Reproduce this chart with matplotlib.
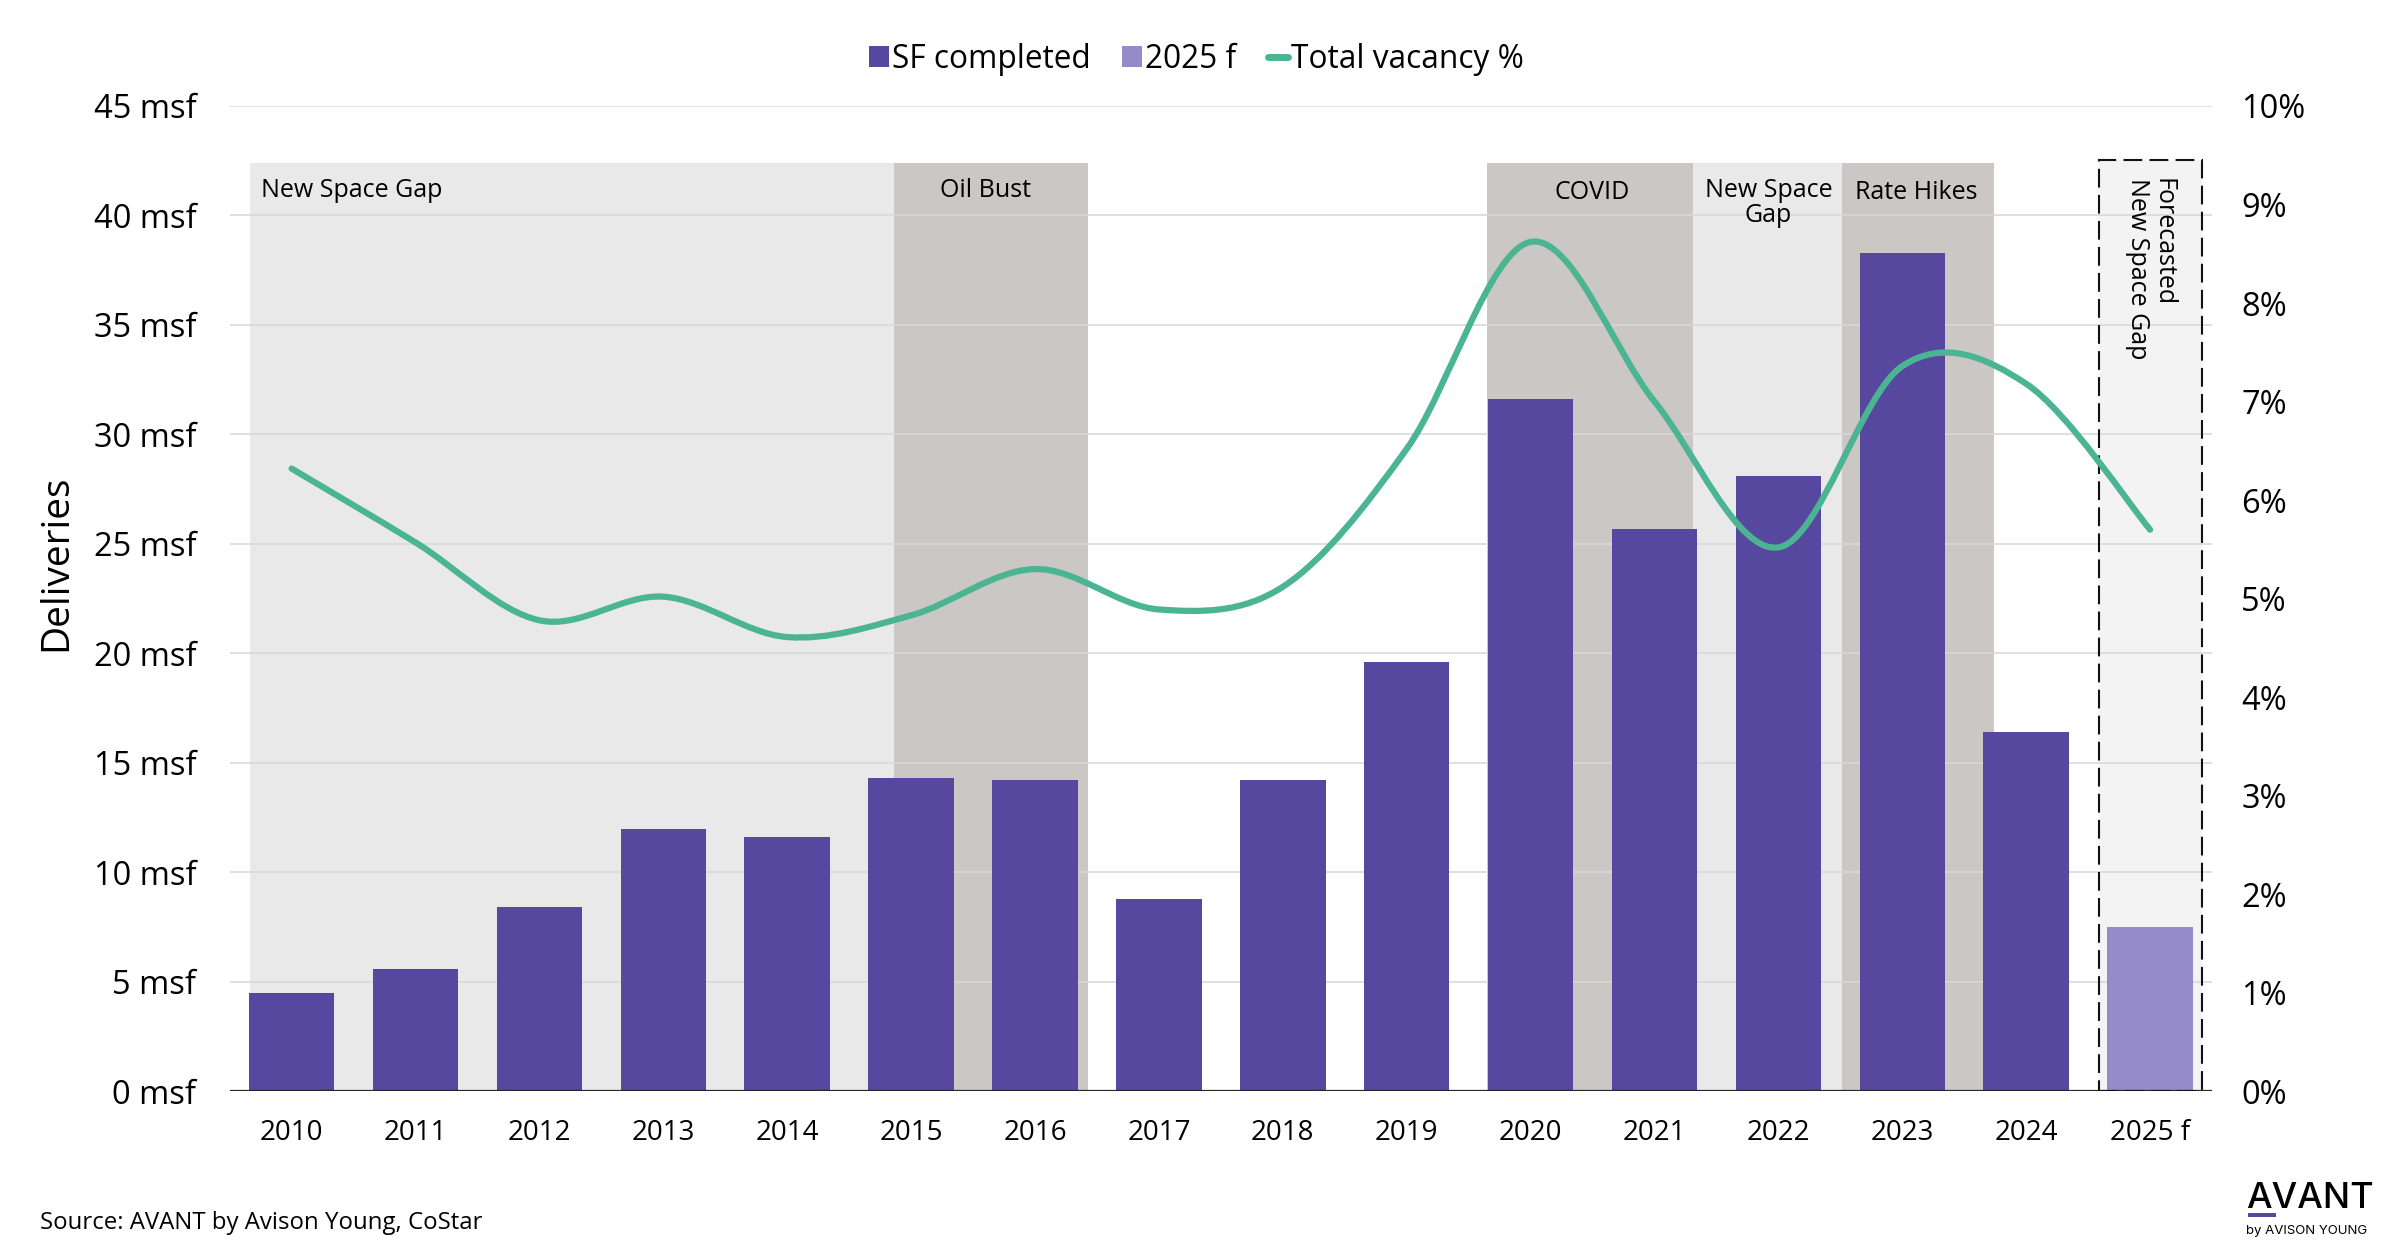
import matplotlib
matplotlib.use("Agg")
import matplotlib.pyplot as plt
from matplotlib.patches import Rectangle, Patch, PathPatch
from matplotlib.lines import Line2D
from matplotlib.path import Path
import numpy as np

# ---------------- data ----------------
years = ["2010", "2011", "2012", "2013", "2014", "2015", "2016", "2017",
         "2018", "2019", "2020", "2021", "2022", "2023", "2024", "2025 f"]
sf_completed = [4.5, 5.6, 8.4, 12.0, 11.6, 14.3, 14.2, 8.8,
                14.2, 19.6, 31.6, 25.7, 28.1, 38.3, 16.4, 7.5]
vacancy = [6.32, 5.57, 4.78, 5.02, 4.61, 4.83, 5.30, 4.89,
           5.12, 6.52, 8.62, 7.00, 5.52, 7.36, 7.18, 5.70]
forecast_index = 15

y_ticks = [0, 5, 10, 15, 20, 25, 30, 35, 40, 45]
y_tick_labels = [f"{v} msf" for v in y_ticks]
y2_ticks = list(range(0, 11))
y2_tick_labels = [f"{v}%" for v in y2_ticks]

periods = ["New Space Gap", "Oil Bust", "COVID", "New Space\nGap", "Rate Hikes"]

# ---------------- style ----------------
FONT = "Open Sans"
plt.rcParams["font.family"] = [FONT, "DejaVu Sans"]
BAR = "#56489e"
BAR_F = "#958bc9"
LINE = "#4bb593"
LIGHT = "#e9e9e9"
DARK = "#cbc7c4"
GRID = "#d9d9d9"

fig = plt.figure(figsize=(24, 12.6), dpi=100)
ax = fig.add_axes([0.0957, 0.1339, 0.826, 0.782])
ax2 = ax.twinx()

x = np.arange(len(years))
ax.set_xlim(-0.5, len(years) - 0.5)
ax.set_ylim(0, 45)
ax2.set_ylim(0, 10)

# shaded periods (category-unit spans)
spans = [(-0.334, 4.86, LIGHT), (4.86, 6.43, DARK), (9.645, 11.31, DARK),
         (11.31, 12.51, LIGHT), (12.51, 13.74, DARK)]
top = 42.4
for (a, b, c) in spans:
    ax.add_patch(Rectangle((a, 0), b - a, top, facecolor=c, edgecolor="none", zorder=0.5))

# forecast dashed box
ax.add_patch(Rectangle((14.59, 0), 0.83, 42.55, facecolor="#f3f3f3", edgecolor="none", zorder=0.5))
ax.add_patch(Rectangle((14.59, 0), 0.83, 42.55, facecolor="none", edgecolor="#111111",
                       lw=1.5, linestyle=(0, (9, 3.5)), zorder=4))

# gridlines
for v in y_ticks[1:]:
    ax.axhline(v, color=GRID, lw=1.2, zorder=1)

# bars
colors = [BAR] * len(years)
colors[forecast_index] = BAR_F
ax.bar(x, sf_completed, width=0.69, color=colors, zorder=2)
ax.axhline(0, color="#262626", lw=1.6, zorder=3)

# period labels
lab_fs = 18
ax.text(-0.247, 41.15, periods[0], ha="left", va="center", fontsize=lab_fs, zorder=5)
ax.text(5.60, 41.15, periods[1], ha="center", va="center", fontsize=lab_fs, zorder=5)
ax.text(10.50, 41.05, periods[2], ha="center", va="center", fontsize=lab_fs, zorder=5)
ax.text(11.92, 40.55, periods[3], ha="center", va="center", fontsize=lab_fs,
        linespacing=1.0, zorder=5)
ax.text(13.11, 41.05, periods[4], ha="center", va="center", fontsize=lab_fs, zorder=5)
ax.text(15.0, 41.7, "Forecasted\nNew Space Gap", ha="center", va="top", rotation=-90,
        fontsize=lab_fs, linespacing=1.0, multialignment="left", zorder=5)

# smoothed vacancy line (Catmull-Rom as cubic Bezier)
P = np.column_stack([x, vacancy]).astype(float)
n = len(P)
verts = [tuple(P[0])]
codes = [Path.MOVETO]
for i in range(n - 1):
    p0 = P[i - 1] if i > 0 else P[i]
    p1 = P[i]
    p2 = P[i + 1]
    p3 = P[i + 2] if i + 2 < n else P[i + 1]
    c1 = p1 + (p2 - p0) / 6.0
    c2 = p2 - (p3 - p1) / 6.0
    verts += [tuple(c1), tuple(c2), tuple(p2)]
    codes += [Path.CURVE4] * 3
ax2.add_patch(PathPatch(Path(verts, codes), facecolor="none", edgecolor=LINE, lw=4.5,
                        capstyle="round", joinstyle="round", zorder=3))

# axes styling
for a in (ax, ax2):
    for s in a.spines.values():
        s.set_visible(False)
ax.set_xticks(x)
ax.set_xticklabels(years, fontsize=20)
ax.tick_params(axis="x", length=0, pad=20)
ax.set_yticks(y_ticks)
ax.set_yticklabels(y_tick_labels, fontsize=23.5)
ax.tick_params(axis="y", length=0, pad=24)
ax2.set_yticks(y2_ticks)
ax2.set_yticklabels(y2_tick_labels, fontsize=23.5)
ax2.tick_params(axis="y", length=0, pad=21)
ax.set_ylabel("Deliveries", fontsize=28)
ax.yaxis.set_label_coords(-0.078, 0.536)

# legend
handles = [Patch(facecolor=BAR, edgecolor="none"),
           Patch(facecolor=BAR_F, edgecolor="none"),
           Line2D([0], [0], color=LINE, lw=5, solid_capstyle="round")]
fig.legend(handles, ["SF completed", "2025 f", "Total vacancy %"], loc="center",
           bbox_to_anchor=(0.4985, 0.953), ncol=3, frameon=False, fontsize=22.8,
           handlelength=0.62, handleheight=0.62, handletextpad=0.1, columnspacing=1.0)

# source and logo
fig.text(0.0167, 0.0246, "Source: AVANT by Avison Young, CoStar", fontsize=17.3,
         ha="left", va="baseline")
fig.text(0.936, 0.041, "AVANT", fontsize=26, family=["Inter", "DejaVu Sans"],
         weight="medium", ha="left", va="baseline")
fig.add_artist(Rectangle((0.9365, 0.0345), 0.012, 0.0028, facecolor=BAR, edgecolor="none",
                         transform=fig.transFigure))
fig.text(0.936, 0.021, "by AVISON YOUNG", fontsize=9.5, family=["Inter", "DejaVu Sans"],
         ha="left", va="baseline")

fig.savefig("out.png", dpi=100)
